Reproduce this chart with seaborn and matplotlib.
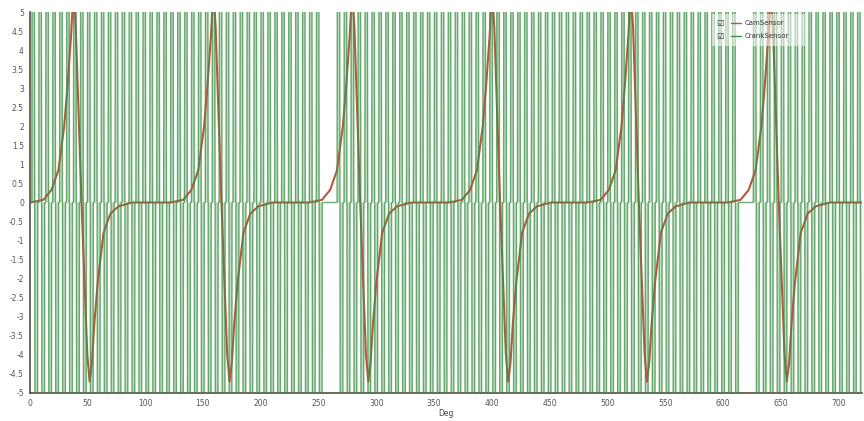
import numpy as np
import pandas as pd
import matplotlib
matplotlib.use("Agg")
import matplotlib.pyplot as plt
from matplotlib.ticker import FormatStrFormatter
from matplotlib.patches import Rectangle
import seaborn as sns

# ---------------- data ----------------
series_names = ["CamSensor", "CrankSensor"]
# cam sensor: zero-crossing angle of each pulse (deg)
cam_centers_deg = [45, 166, 286, 407, 527, 648]
# cam pulse profile: offset from centre (deg) and value
cam_profile_offset = [-44, -33, -26, -20, -15, -12, -9, -7, -5, 0, 5, 7, 9, 11, 14, 19, 25, 32, 44]
cam_profile_value = [0.0, 0.07, 0.33, 0.85, 2.0, 3.1, 4.4, 5.6, 4.6, 0.0, -4.0, -4.7, -4.2, -3.2, -2.1, -0.8, -0.29, -0.1, 0.0]
# crank sensor: 60-2 wheel
crank_pitch_deg = 6
crank_first_tooth_deg = 2
crank_missing_teeth_deg = [254, 260, 614, 620]
crank_tooth_offset = [0.0, 0.3, 2.2, 2.8, 4.9, 5.2]
crank_tooth_value = [0.0, 9.0, 9.0, -9.0, -9.0, 0.0]
x_ticks = [0, 50, 100, 150, 200, 250, 300, 350, 400, 450, 500, 550, 600, 650, 700]
y_ticks = [-5, -4.5, -4, -3.5, -3, -2.5, -2, -1.5, -1, -0.5, 0, 0.5, 1, 1.5, 2, 2.5, 3, 3.5, 4, 4.5, 5]
x_range = [0, 720]

# ---------------- build traces ----------------
cam_x, cam_y = [x_range[0]], [0.0]
for c in cam_centers_deg:
    for o, v in zip(cam_profile_offset, cam_profile_value):
        cam_x.append(c + o)
        cam_y.append(v)
cam_x.append(x_range[1]); cam_y.append(0.0)
cam_df = pd.DataFrame({"Deg": cam_x, "V": cam_y})

teeth = [p for p in range(crank_first_tooth_deg, x_range[1], crank_pitch_deg)
         if p not in crank_missing_teeth_deg]
cr_x, cr_y = [x_range[0]], [0.0]
for p in teeth:
    for o, v in zip(crank_tooth_offset, crank_tooth_value):
        cr_x.append(p + o)
        cr_y.append(v)
cr_x.append(x_range[1]); cr_y.append(0.0)
crank_df = pd.DataFrame({"Deg": cr_x, "V": cr_y})

# ---------------- plot ----------------
sns.set_theme(style="white")
plt.rcParams["font.family"] = ["DejaVu Sans"]

W, H = 864, 421
fig = plt.figure(figsize=(W / 100, H / 100), dpi=100)
L, R, T, B = 29.5, 862, 12, 393
ax = fig.add_axes([L / W, 1 - B / H, (R - L) / W, (B - T) / H])

cam_color = "#b05a3c"
crank_color = "#3f8f4c"
crank_fill = "#bcdfbc"

ax.fill_between(crank_df["Deg"], 0, crank_df["V"], color=crank_fill, lw=0, zorder=1)
sns.lineplot(data=cam_df, x="Deg", y="V", sort=False, estimator=None,
             color=cam_color, lw=1.5, ax=ax, zorder=2)
sns.lineplot(data=crank_df, x="Deg", y="V", sort=False, estimator=None,
             color=crank_color, lw=1.0, alpha=0.75, ax=ax, zorder=3)

ax.set_xlim(*x_range)
ax.set_ylim(-5, 5)
ax.set_xticks(x_ticks)
ax.set_yticks(y_ticks)
ax.yaxis.set_major_formatter(FormatStrFormatter("%g"))
ax.tick_params(axis="both", labelsize=5.5, colors="#555555", length=2, width=0.6, pad=2)
ax.set_xlabel("Deg", fontsize=5.5, color="#444444", labelpad=1)
ax.set_ylabel("")
for s in ["top", "right"]:
    ax.spines[s].set_visible(False)
for s in ["left", "bottom"]:
    ax.spines[s].set_color("#5a4a40")
    ax.spines[s].set_linewidth(1.2)

# legend (drawn by hand: checkbox, line sample, label)
def ax_xy(px, py):
    return (px - L) / (R - L), (B - py) / (B - T)

x0, y0 = ax_xy(712, 46)
x1, y1 = ax_xy(805, 14)
ax.add_patch(Rectangle((x0, y0), x1 - x0, y1 - y0, transform=ax.transAxes,
                       facecolor="white", edgecolor="none", alpha=0.55, zorder=4))
for i, (name, col) in enumerate(zip(series_names, [cam_color, crank_color])):
    py = 23 + i * 13
    cx, cy = ax_xy(720, py)
    ax.text(cx, cy, "\u2611", transform=ax.transAxes, fontsize=6, color="#333333",
            ha="center", va="center", zorder=5)
    lx0, ly = ax_xy(731, py)
    lx1, _ = ax_xy(741, py)
    ax.plot([lx0, lx1], [ly, ly], transform=ax.transAxes, color=col, lw=1.0, zorder=5)
    tx, _ = ax_xy(745, py)
    ax.text(tx, ly, name, transform=ax.transAxes, fontsize=5, color="#333333",
            ha="left", va="center", zorder=5)

fig.savefig("out.png", dpi=100)
